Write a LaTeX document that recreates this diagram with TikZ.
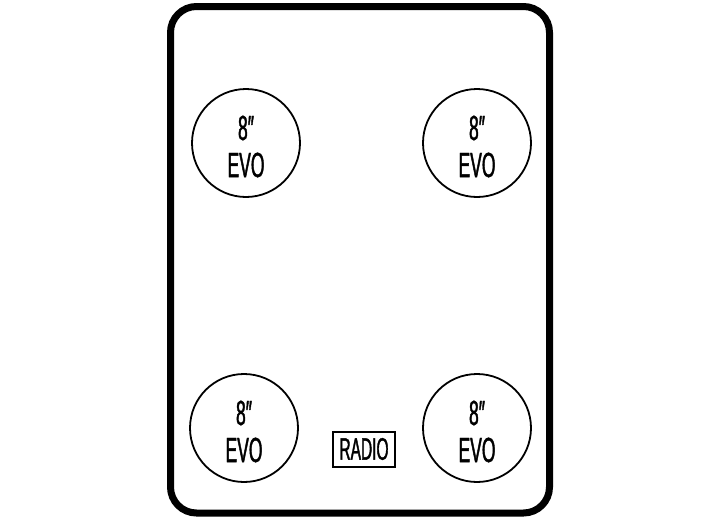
\documentclass[tikz,border=0pt]{standalone}
\usepackage{fontspec}
\newfontfamily\evofont[FakeStretch=0.5, FakeBold=1.2]{Liberation Sans}
\begin{document}
\begin{tikzpicture}[x=1pt, y=-1pt,
        spk/.style={circle, draw, line width=1.8pt, minimum size=108pt, inner sep=0pt},
        lbl/.style={font=\evofont\fontsize{35}{35}\selectfont, inner sep=0pt},
        radiobox/.style={draw, line width=2pt, minimum width=62pt, minimum height=35pt, inner sep=0pt}]
        \useasboundingbox (0,0) rectangle (720,520);

        \draw[line width=7pt, rounded corners=26pt] (170.5,6.5) rectangle (549.5,513);

        \node[spk] (fl) at (246, 143) {};
        \node[spk] (fr) at (477, 143) {};
        \node[spk] (rl) at (244, 428) {};
        \node[spk] (rr) at (477, 428) {};

        \node[lbl] at ([yshift=15pt]fl.center) {8″};
        \node[lbl] at ([yshift=-22pt]fl.center) {EVO};
        \node[lbl] at ([yshift=15pt]fr.center) {8″};
        \node[lbl] at ([yshift=-22pt]fr.center) {EVO};
        \node[lbl] at ([yshift=15pt]rl.center) {8″};
        \node[lbl] at ([yshift=-22pt]rl.center) {EVO};
        \node[lbl] at ([yshift=15pt]rr.center) {8″};
        \node[lbl] at ([yshift=-22pt]rr.center) {EVO};

        \node[radiobox, font=\evofont\fontsize{31}{31}\selectfont] (radio) at (364, 449) {RADIO};

    \end{tikzpicture}
\end{document}
